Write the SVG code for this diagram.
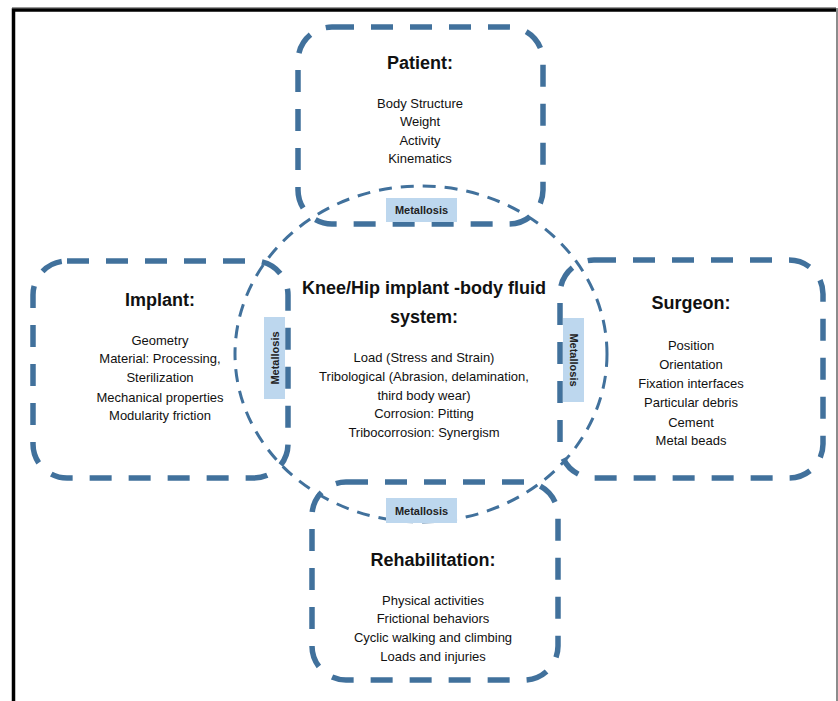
<svg xmlns="http://www.w3.org/2000/svg" width="838" height="701" viewBox="0 0 838 701">
<style>
.box{fill:none;stroke:#41719c;stroke-width:5.5;stroke-dasharray:22 17}
.ring{fill:none;stroke:#41719c;stroke-width:3;stroke-dasharray:13 9}
.t{font-family:"Liberation Sans",Arial,sans-serif;fill:#111;text-anchor:middle}
.h{font-size:18px;font-weight:bold}
.b{font-size:13px}
.tag{fill:#bdd7ee}
.m{font-family:"Liberation Sans",Arial,sans-serif;font-size:11px;font-weight:bold;fill:#222;text-anchor:middle}
</style>
<rect width="838" height="701" fill="#fff"/>
<path d="M13.5,701 V10 H836" fill="none" stroke="#000" stroke-width="3.5"/>
<line x1="837" y1="8" x2="837" y2="701" stroke="#666" stroke-width="1.5"/>
<line x1="12" y1="7.5" x2="836" y2="7.5" stroke="#999" stroke-width="1"/>
<g id="connectors">
<ellipse class="ring" cx="421" cy="354" rx="186" ry="168"/>
</g>
<g id="patient">
<rect class="box" x="298" y="27" width="245" height="197" rx="34"/>
<text class="t h" x="420" y="69">Patient:</text>
<text class="t b" x="420" y="107.5">Body Structure</text>
<text class="t b" x="420" y="125.5">Weight</text>
<text class="t b" x="420" y="144.5">Activity</text>
<text class="t b" x="420" y="162.5">Kinematics</text>
</g>
<g id="implant">
<rect class="box" x="33" y="261" width="255" height="217" rx="34"/>
<text class="t h" x="160" y="306">Implant:</text>
<text class="t b" x="160" y="344.5">Geometry</text>
<text class="t b" x="160" y="362.5">Material: Processing,</text>
<text class="t b" x="160" y="381.5">Sterilization</text>
<text class="t b" x="160" y="401.5">Mechanical properties</text>
<text class="t b" x="160" y="419.5">Modularity friction</text>
</g>
<g id="surgeon">
<rect class="box" x="560" y="260" width="263" height="218" rx="34"/>
<text class="t h" x="691" y="309">Surgeon:</text>
<text class="t b" x="691" y="349.5">Position</text>
<text class="t b" x="691" y="368.5">Orientation</text>
<text class="t b" x="691" y="387.5">Fixation interfaces</text>
<text class="t b" x="691" y="406.5">Particular debris</text>
<text class="t b" x="691" y="426.5">Cement</text>
<text class="t b" x="691" y="444.5">Metal beads</text>
</g>
<g id="rehabilitation">
<rect class="box" x="312" y="482" width="246" height="198" rx="34"/>
<text class="t h" x="433" y="566">Rehabilitation:</text>
<text class="t b" x="433" y="604.5">Physical activities</text>
<text class="t b" x="433" y="622.5">Frictional behaviors</text>
<text class="t b" x="433" y="641.5">Cyclic walking and climbing</text>
<text class="t b" x="433" y="660.5">Loads and injuries</text>
</g>
<g id="system">
<text class="t h" x="424" y="294">Knee/Hip implant -body fluid</text>
<text class="t h" x="424" y="323">system:</text>
<text class="t b" x="424" y="361.5">Load (Stress and Strain)</text>
<text class="t b" x="424" y="380.5">Tribological (Abrasion, delamination,</text>
<text class="t b" x="424" y="399.5">third body wear)</text>
<text class="t b" x="424" y="417.5">Corrosion: Pitting</text>
<text class="t b" x="424" y="436.5">Tribocorrosion: Synergism</text>
</g>
<g id="metallosis-top">
<rect class="tag" x="386" y="198" width="71" height="24"/>
<text class="m" x="421.5" y="214">Metallosis</text>
</g>
<g id="metallosis-bottom">
<rect class="tag" x="386" y="498" width="71" height="25"/>
<text class="m" x="421.5" y="514.5">Metallosis</text>
</g>
<g id="metallosis-left">
<rect class="tag" x="264" y="317" width="21" height="82"/>
<text class="m" transform="translate(274.5,358) rotate(-90)" y="4">Metallosis</text>
</g>
<g id="metallosis-right">
<rect class="tag" x="563" y="318" width="21" height="84"/>
<text class="m" transform="translate(573.5,360) rotate(90)" y="4">Metallosis</text>
</g>
</svg>
